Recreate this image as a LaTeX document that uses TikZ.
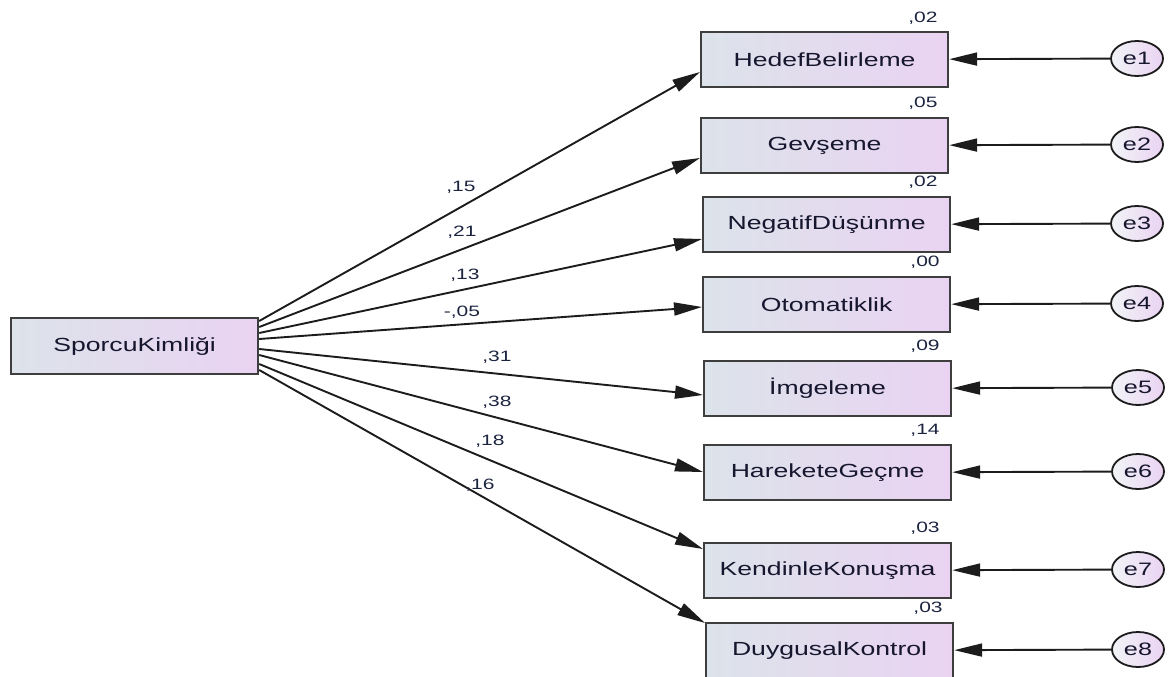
\documentclass[tikz,border=0pt]{standalone}
\usepackage{fontspec}
\setmainfont{Liberation Sans}[FakeStretch=1.4]
\usetikzlibrary{arrows.meta,shapes.geometric}
\definecolor{txt}{HTML}{16162E}
\definecolor{valc}{HTML}{1C2440}
\definecolor{gl}{HTML}{DCE3EA}
\definecolor{gr}{HTML}{EAD3F2}
\definecolor{edgec}{HTML}{1C1C1C}
\begin{document}
\begin{tikzpicture}[x=1pt,y=-1pt,
  var/.style={draw=edgec!85!white,line width=2.2pt,left color=gl,right color=gr,minimum width=247pt,minimum height=55pt,inner sep=0pt,font=\fontsize{19}{22}\selectfont,text=txt,anchor=north west},
  err/.style={ellipse,draw=edgec,line width=1.8pt,left color=gl!40!white,right color=gr,minimum width=52pt,minimum height=35pt,inner sep=0pt,font=\fontsize{18}{20}\selectfont,text=txt},
  val/.style={font=\fontsize{15}{17}\selectfont,text=valc,inner sep=0pt},
  conn/.style={draw=edgec,line width=1.9pt,-{Triangle[length=28pt,width=13pt]}}]
\fill[white] (0,0) rectangle (1168,677);
\useasboundingbox (0,0) rectangle (1168,677);
% source
\node[var,minimum height=56pt] (s) at (10,317) {SporcuKimliği};
% observed
\node[var] (b1) at (700,31) {HedefBelirleme};
\node[var] (b2) at (700,117) {Gevşeme};
\node[var] (b3) at (702,196) {NegatifDüşünme};
\node[var] (b4) at (702,276) {Otomatiklik};
\node[var] (b5) at (703,360) {İmgeleme};
\node[var] (b6) at (703,444) {HareketeGeçme};
\node[var] (b7) at (703,542) {KendinleKonuşma};
\node[var] (b8) at (705,622) {DuygusalKontrol};
% errors
\node[err] (e1) at (1137,58.5) {e1};
\node[err] (e2) at (1137,144.5) {e2};
\node[err] (e3) at (1137,223.5) {e3};
\node[err] (e4) at (1137,303.5) {e4};
\node[err] (e5) at (1138,387.5) {e5};
\node[err] (e6) at (1138,471.5) {e6};
\node[err] (e7) at (1138,569.5) {e7};
\node[err] (e8) at (1138,649.5) {e8};
\foreach \i in {1,...,8} {\draw[conn] (e\i) -- (b\i);}
% start and end points
\coordinate (s1) at ([yshift=-4pt]s.north east);
\coordinate (s2) at ([yshift=-10pt]s.north east);
\coordinate (s3) at ([yshift=-16pt]s.north east);
\coordinate (s4) at ([yshift=-22pt]s.north east);
\coordinate (s5) at ([yshift=-32pt]s.north east);
\coordinate (s6) at ([yshift=-38pt]s.north east);
\coordinate (s7) at ([yshift=-47pt]s.north east);
\coordinate (s8) at ([yshift=-53pt]s.north east);
\coordinate (t1) at ([yshift=-41pt]b1.north west);
\coordinate (t2) at ([yshift=-41pt]b2.north west);
\coordinate (t3) at ([yshift=-43pt]b3.north west);
\coordinate (t4) at ([yshift=-31pt]b4.north west);
\coordinate (t5) at ([yshift=-35pt]b5.north west);
\coordinate (t6) at ([yshift=-28pt]b6.north west);
\coordinate (t7) at ([yshift=-7pt]b7.north west);
\coordinate (t8) at ([yshift=-1pt]b8.north west);
\foreach \i in {1,...,8} {\draw[conn] (s\i) -- (t\i);}
% path coefficients
\node[val] (p1) at (461,187) {,15};
\node[val] (p2) at (462,232) {,21};
\node[val] (p3) at (465,275) {,13};
\node[val] (p4) at (462,312) {-,05};
\node[val] (p5) at (497,357) {,31};
\node[val] (p6) at (497,402) {,38};
\node[val] (p7) at (490,441) {,18};
\node[val] (p8) at (480,485) {,16};
% squared multiple correlations
\node[val] (r1) at (923,18) {,02};
\node[val] (r2) at (923,103) {,05};
\node[val] (r3) at (923,182) {,02};
\node[val] (r4) at (925,262) {,00};
\node[val] (r5) at (925,346) {,09};
\node[val] (r6) at (925,430) {,14};
\node[val] (r7) at (925,528) {,03};
\node[val] (r8) at (928,608) {,03};
\end{tikzpicture}
\end{document}
